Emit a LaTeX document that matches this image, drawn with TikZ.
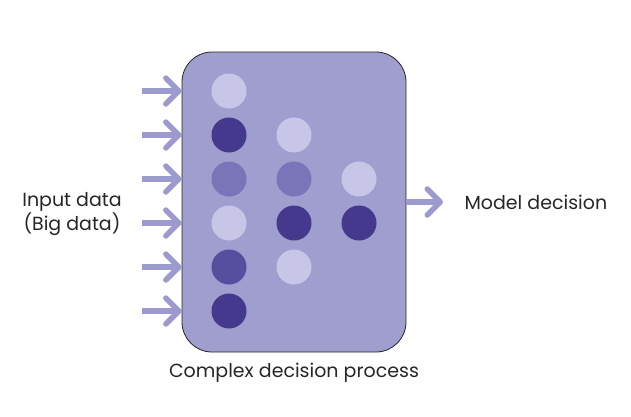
\documentclass[tikz,border=0pt]{standalone}
\usepackage{fontspec}
\setmainfont{Poppins}
\usetikzlibrary{arrows.meta}

\definecolor{boxfill}{HTML}{A09DCF}
\definecolor{arrowcol}{HTML}{9D9ACE}
\definecolor{dotlight}{HTML}{C8C6E6}
\definecolor{dotmid}{HTML}{7A74B8}
\definecolor{dotdeep}{HTML}{564E9E}
\definecolor{dotdark}{HTML}{45398E}

\begin{document}
\begin{tikzpicture}[x=1pt,y=-1pt,
    procbox/.style={draw=black!85, line width=0.8pt, fill=boxfill, rounded corners=30pt,
        minimum width=224pt, minimum height=300pt, inner sep=0pt},
    dot/.style={circle, fill=#1, minimum size=35pt, inner sep=0pt},
    fatarrow/.style={draw=arrowcol, line width=5.5pt,
        -{Straight Barb[length=13pt,width=26pt,round]}},
    label/.style={font=\fontsize{19}{24}\selectfont, text=black!85, align=center}]

            \useasboundingbox (0,0) rectangle (631,416);

            \node[procbox] (proc) at (294,202) {};

            % first column
            \node[dot=dotlight] (c11) at (229,91) {};
            \node[dot=dotdark]  (c12) at (229,135) {};
            \node[dot=dotmid]   (c13) at (229,179) {};
            \node[dot=dotlight] (c14) at (229,223) {};
            \node[dot=dotdeep]  (c15) at (229,267) {};
            \node[dot=dotdark]  (c16) at (229,311) {};

            % second column
            \node[dot=dotlight] (c22) at (294,135) {};
            \node[dot=dotmid]   (c23) at (294,179) {};
            \node[dot=dotdark]  (c24) at (294,223) {};
            \node[dot=dotlight] (c25) at (294,267) {};

            % third column
            \node[dot=dotlight] (c33) at (359,179) {};
            \node[dot=dotdark]  (c34) at (359,223) {};

            % inputs
            \foreach \i/\y in {1/91,2/135,3/179,4/223,5/267,6/311} {
                \coordinate (in\i) at (142,\y);
                \draw[fatarrow] (in\i) -- (proc.west |- in\i);
            }

            % output
            \coordinate (out) at (443,202);
            \draw[fatarrow] (proc.east |- out) -- (out);

            \node[label] (inlabel) at (72,214) {Input data\\(Big data)};
            \node[label, anchor=west] (outlabel) at (461,202) {Model decision};
            \node[label] (proclabel) at (294,373) {Complex decision process};

        \end{tikzpicture}
\end{document}
